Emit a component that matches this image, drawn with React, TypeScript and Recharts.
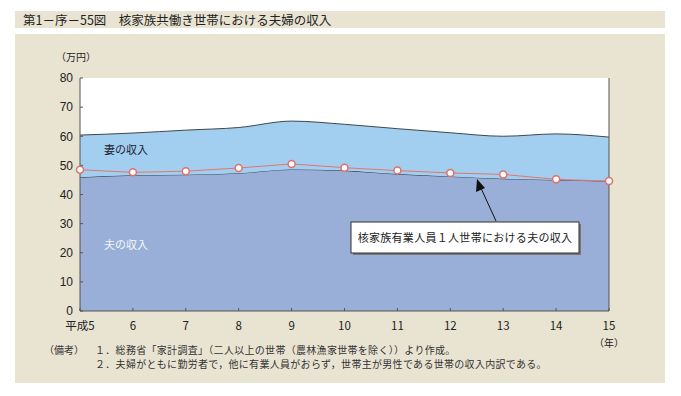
import React from "react";
import {
  ComposedChart,
  Area,
  Line,
  XAxis,
  YAxis,
  CartesianGrid,
  ReferenceLine,
} from "recharts";

const years = [5, 6, 7, 8, 9, 10, 11, 12, 13, 14, 15];
const husband = [45.9, 46.6, 46.8, 47.3, 48.6, 48.2, 47.0, 46.2, 45.4, 45.0, 44.6];
const wife = [14.5, 14.5, 15.3, 15.7, 16.6, 15.9, 15.6, 15.0, 14.6, 15.8, 15.1];
const singleEarner = [48.5, 47.6, 48.0, 49.1, 50.5, 49.2, 48.2, 47.4, 46.9, 45.2, 44.6];
const yTicks = [0, 10, 20, 30, 40, 50, 60, 70, 80];

const title = "第1－序－55図　核家族共働き世帯における夫婦の収入";
const note1 = "１．総務省「家計調査」（二人以上の世帯（農林漁家世帯を除く））より作成。";
const note2 = "２．夫婦がともに勤労者で，他に有業人員がおらず，世帯主が男性である世帯の収入内訳である。";

const BEIGE = "#e9e4d2";
const FONT = "'Noto Sans CJK JP', 'Liberation Sans', sans-serif";
const NUM_FONT = "'Liberation Sans', Arial, sans-serif";

const data = years.map((y, i) => ({
  year: y,
  husband: husband[i],
  wife: wife[i],
  single: singleEarner[i],
}));

export default function App() {
  return (
    <div
      style={{
        position: "fixed",
        left: 0,
        top: 0,
        width: 681,
        height: 396,
        background: "#fff",
        overflow: "hidden",
      }}
    >
      <div style={{ position: "absolute", left: 15, top: 11, width: 650, height: 17, background: BEIGE }} />
      <div style={{ position: "absolute", left: 15, top: 34, width: 650, height: 349, background: BEIGE }} />
      <div style={{ position: "absolute", left: 0, top: 0 }}>
        <ComposedChart
          width={681}
          height={396}
          data={data}
          margin={{ top: 78, right: 72, bottom: 55, left: 50 }}
        >
          <CartesianGrid horizontal={false} vertical={false} fill="#ffffff" fillOpacity={1} stroke="none" />
          <XAxis
            dataKey="year"
            type="number"
            domain={[5, 15]}
            ticks={years}
            height={30}
            tickSize={-3}
            tickMargin={14}
            axisLine={{ stroke: "#555" }}
            tickLine={{ stroke: "#555" }}
            tick={{ fill: "#222", fontSize: 11.5, fontFamily: FONT }}
            tickFormatter={(v: number) => (v === 5 ? "平成5" : String(v))}
          />
          <YAxis
            type="number"
            domain={[0, 80]}
            ticks={yTicks}
            width={30}
            tickSize={-3}
            tickMargin={10}
            axisLine={{ stroke: "#555" }}
            tickLine={{ stroke: "#555" }}
            tick={{ fill: "#222", fontSize: 12, fontFamily: NUM_FONT }}
          />
          <Area
            type="monotone"
            dataKey="husband"
            stackId="a"
            fill="#9aafd7"
            fillOpacity={1}
            stroke="#2e3a4a"
            strokeWidth={1}
            isAnimationActive={false}
          />
          <Area
            type="monotone"
            dataKey="wife"
            stackId="a"
            fill="#a2cff0"
            fillOpacity={1}
            stroke="#3e4650"
            strokeWidth={1}
            isAnimationActive={false}
          />
          <ReferenceLine x={15} stroke="#555" />
          <Line
            type="linear"
            dataKey="single"
            stroke="#e8736c"
            strokeWidth={1}
            dot={{ r: 3.5, fill: "#fff", stroke: "#e0706a", strokeWidth: 1.5 }}
            isAnimationActive={false}
          />
        </ComposedChart>
      </div>
      <svg
        width={681}
        height={396}
        style={{ position: "absolute", left: 0, top: 0, pointerEvents: "none" }}
      >
        <text x={23} y={24.5} fontSize={12.5} fontFamily={FONT} fill="#222">
          {title}
        </text>
        <text x={56} y={61} fontSize={10} fontFamily={FONT} fill="#222">
          （万円）
        </text>
        <text x={104} y={154} fontSize={11} fontFamily={FONT} fill="#1e2430">
          妻の収入
        </text>
        <text x={104} y={249} fontSize={11} fontFamily={FONT} fill="#f4f6fb">
          夫の収入
        </text>
        <text x={594} y={347} fontSize={10} fontFamily={FONT} fill="#222">
          （年）
        </text>
        <text x={44} y={354} fontSize={10} fontFamily={FONT} fill="#333">
          （備考）
        </text>
        <text x={95} y={354} fontSize={10} fontFamily={FONT} fill="#333" letterSpacing={0.3}>
          {note1}
        </text>
        <text x={95} y={368} fontSize={10} fontFamily={FONT} fill="#333" letterSpacing={0.3}>
          {note2}
        </text>
        <rect x={353} y={224} width={228} height={31} fill="#777" />
        <rect x={351} y={222} width={228} height={31} fill="#fff" stroke="#333" strokeWidth={1} />
        <text x={465} y={241.5} fontSize={11} fontFamily={FONT} fill="#222" textAnchor="middle" letterSpacing={0.3}>
          核家族有業人員１人世帯における夫の収入
        </text>
        <line x1={496} y1={221} x2={480} y2={186} stroke="#111" strokeWidth={1} />
        <polygon points="477,179 476,192 485,188" fill="#111" />
      </svg>
    </div>
  );
}
